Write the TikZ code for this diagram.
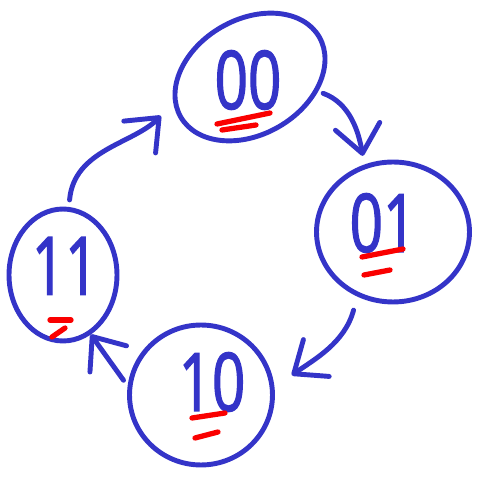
\documentclass[tikz,border=0pt]{standalone}
\usepackage{fontspec}
\usepackage{xcolor}
\usepackage{tikz}
\usetikzlibrary{shapes.geometric,arrows.meta}
\newfontfamily\handfont[FakeStretch=0.72,FakeBold=1.6]{Open Sans}
\definecolor{penblue}{RGB}{52,52,200}
\definecolor{penred}{RGB}{250,0,0}

\begin{document}
\begin{tikzpicture}[x=0.02cm,y=0.02cm,
state/.style={draw=penblue,ellipse,line width=2.8pt,inner sep=0pt},
digits/.style={text=penblue,inner sep=0pt,font=\handfont\fontsize{46}{46}\selectfont},
step arrow/.style={draw=penblue,line width=2.8pt,line cap=round,-{Straight Barb[round,length=5.5mm,width=9mm]}},
uline/.style={draw=penred,line width=3pt,line cap=round}]
\useasboundingbox (0,0) rectangle (478,477);

\node[state,minimum width=3.2cm,minimum height=2.3cm,rotate=30] (s00) at (250,400) {};
\node[state,minimum width=3.06cm,minimum height=2.8cm] (s01) at (393,245) {};
\node[state,minimum width=2.86cm,minimum height=2.8cm] (s10) at (201,82) {};
\node[state,minimum width=2.16cm,minimum height=2.64cm] (s11) at (63,202) {};

\node[digits] (l00) at (248,397) {00};
\node[digits] (l01) at (383,254) {01};
\node[digits] (l10) at (212,95) {10};
\node[digits] (l11) at (65,211) {11};

% red underlines
\draw[uline] (217,353) -- (270,364);
\draw[uline] (222,347) -- (256,352);
\draw[uline] (362,220) -- (403,228);
\draw[uline] (364,202) -- (390,207);
\draw[uline] (192,59) -- (225,64);
\draw[uline] (195,39) -- (218,45);
\draw[uline] (50,157) -- (71,157);
\draw[uline] (52,140) -- (65,149);

\draw[step arrow,shorten <=3pt,shorten >=5pt] (s00.-42) to[out=-20,in=100] (s01.113);
\draw[step arrow,shorten <=8pt,shorten >=12pt] (s01.241) to[out=-105,in=35] (s10.6);
\draw[step arrow,shorten <=4pt] (s10.173) -- (s11.-65);
\draw[step arrow,shorten <=4pt,shorten >=10pt] (s11.85) to[out=85,in=225] (s00.169);
\end{tikzpicture}
\end{document}
